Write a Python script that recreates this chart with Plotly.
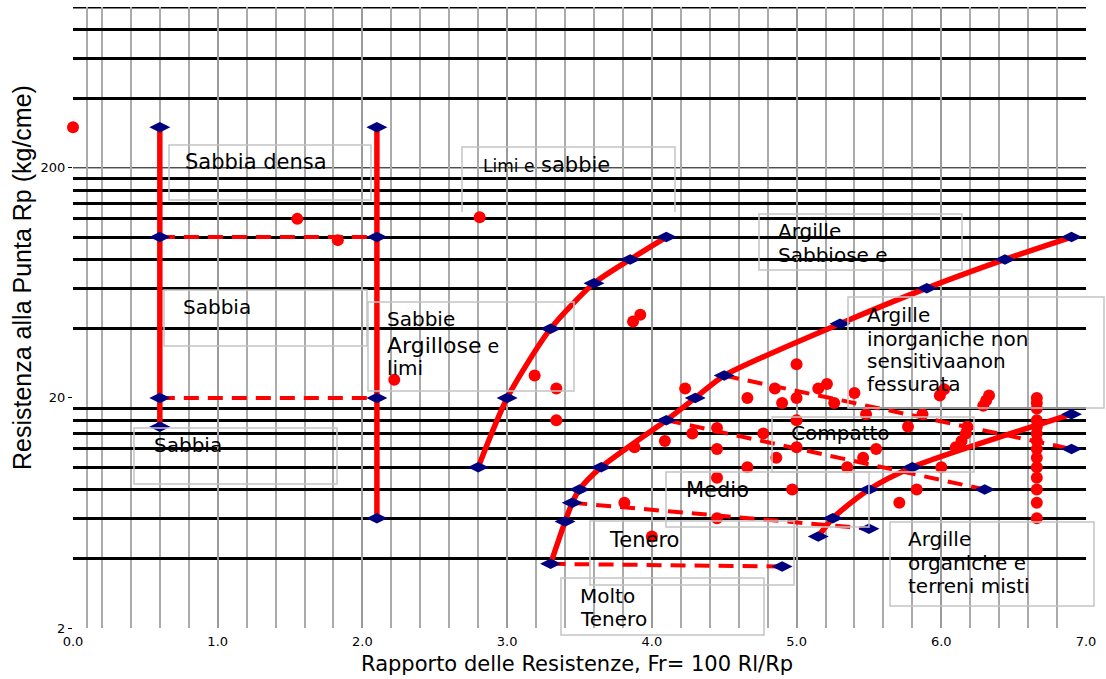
import math
import plotly.graph_objects as go

# ---------------- data ----------------
# Sabbia boundary (vertical at Fr=0.6)
sabbia_x = [0.6, 0.6, 0.6, 0.6]
sabbia_y = [300, 100, 20, 15]
# Sabbie argillose boundary (vertical at Fr=2.1)
sabbie_arg_x = [2.1, 2.1, 2.1, 2.1]
sabbie_arg_y = [300, 100, 20, 6]
# Limi e sabbie curve
limi_x = [2.8, 3.0, 3.3, 3.6, 3.85, 4.1]
limi_y = [10, 20, 40, 63, 80, 100]
# Argille curve
argille_x = [3.3, 3.4, 3.45, 3.5, 3.65, 4.1, 4.3, 4.5, 5.3, 5.9, 6.44, 6.9]
argille_y = [3.8, 5.8, 7, 8, 10, 16, 20, 25, 42, 60, 80, 100]
# Argille organiche curve
organ_x = [5.15, 5.25, 5.5, 5.8, 6.9]
organ_y = [5, 6, 8, 10, 17]

# dashed consistency lines
dense_x, dense_y = [0.6, 2.1], [100, 100]
sand_x, sand_y = [0.6, 2.1], [20, 20]
molto_x, molto_y = [3.3, 4.9], [3.8, 3.7]
tenero_x, tenero_y = [3.45, 5.5], [7, 5.4]
medio_x, medio_y = [4.1, 6.3], [16, 8]
compatto_x, compatto_y = [4.5, 6.9], [25, 12]

# measured points (red dots)
pts_x = [0.0, 1.55, 1.83, 2.81, 3.87, 3.92, 2.22, 3.19, 3.34, 3.34, 3.88, 4.09, 4.23,
         4.28, 4.45, 4.45, 4.45, 4.66, 4.66, 4.77, 4.85, 4.86, 3.81, 4.45, 4.0,
         5.0, 4.9, 5.0, 5.15, 5.21, 5.26, 5.4, 5.48, 5.87, 5.99, 6.02, 6.29, 6.31, 6.33,
         5.0, 5.0, 4.97, 5.35, 5.46, 5.55, 5.77, 5.83, 5.71, 6.0, 6.1, 6.14, 6.17, 6.18,
         6.66, 6.66, 6.66, 6.66, 6.66, 6.66, 6.66, 6.66, 6.66, 6.66, 6.66, 6.66, 6.66, 6.66]
pts_y = [300, 120, 97, 122, 43, 46, 24, 25, 22, 16, 12.2, 13, 22,
         14, 14.8, 12, 9, 20, 10, 14, 22, 11, 7, 6, 5,
         28, 19, 20, 22, 23, 19, 21, 17, 17, 20.5, 21.8, 18.5, 19.5, 20.5,
         16, 12.2, 8, 10, 11, 12, 15, 8, 7, 10, 12.2, 13, 14, 15,
         20, 19, 18, 16, 15, 14, 13, 12, 11, 10, 9, 8, 7, 6]

# axes
x_major = [0, 1, 2, 3, 4, 5, 6, 7]
x_minor = [0.1] + [round(0.2 * i, 1) for i in range(1, 35) if i % 5 != 0]
y_ticks = [2, 20, 200]
y_thick = [4, 6, 8, 10, 12, 14, 16, 18, 40, 60, 80, 100, 120, 140, 160, 180, 400, 600, 800]
y_edge = [1000]
y_thin = [200]

# zone labels: (box x0,y0,x1,y1 in px, open bottom?, text left px, [(line, centre px, size)])
zones = [
    ((169, 145, 371, 200), False, 183, [("Sabbia densa", 162, 21)]),
    ((462, 147, 675, 212), True, 481, [("<span style='font-size:17px'>Limi e</span> sabbie", 165, 21)]),
    ((759, 214, 962, 270), False, 776, [("Argille", 231, 20), ("Sabbiose e", 255, 20)]),
    ((164, 290, 367, 346), False, 181, [("Sabbia", 307, 20)]),
    ((368, 302, 574, 391), False, 385, [("Sabbie", 319, 20),
                                        ("<span style='font-size:22px'>Argillose</span> e", 345, 19),
                                        ("limi", 368, 20)]),
    ((848, 297, 1104, 408), False, 865, [("Argille", 315, 20), ("inorganiche non", 339, 20),
                                         ("sensitivaanon", 361, 20), ("fessurata", 384, 20)]),
    ((134, 428, 337, 484), False, 152, [("Sabbia", 445, 20)]),
    ((772, 417, 974, 472), False, 789, [("Compatto", 433, 20)]),
    ((666, 472, 869, 527), False, 684, [("Medio", 490, 21)]),
    ((590, 521, 794, 585), False, 607, [("Tenero", 540, 21)]),
    ((561, 578, 764, 635), False, 578, [("Molto", 596, 20), ("Tenero", 619, 20)]),
    ((890, 522, 1094, 606), False, 906, [("Argille", 539, 20), ("organiche e", 563, 20),
                                         ("terreni misti", 586, 20)]),
]

# ---------------- figure ----------------
W, H = 1106, 679
L, R, T, B = 73, 1086, 7, 628


def pxx(v):
    return (v - L) / (R - L)


def pxy(v):
    return (B - v) / (B - T)


RED = "#ff0000"
NAVY = "#00007f"
fig = go.Figure()

dash_style = dict(color=RED, width=4, dash="15px,9px")
for xs, ys in [(dense_x, dense_y), (sand_x, sand_y), (molto_x, molto_y),
               (tenero_x, tenero_y), (medio_x, medio_y), (compatto_x, compatto_y)]:
    fig.add_trace(go.Scatter(x=xs, y=ys, mode="lines", line=dash_style,
                             showlegend=False, hoverinfo="skip"))

for xs, ys, shape in [(sabbia_x, sabbia_y, "linear"), (sabbie_arg_x, sabbie_arg_y, "linear"),
                      (limi_x, limi_y, "spline"), (argille_x, argille_y, "spline"),
                      (organ_x, organ_y, "spline")]:
    fig.add_trace(go.Scatter(x=xs, y=ys, mode="lines",
                             line=dict(color=RED, width=5.5, shape=shape, smoothing=0.7),
                             showlegend=False, hoverinfo="skip"))

fig.add_trace(go.Scatter(x=pts_x, y=pts_y, mode="markers", cliponaxis=False,
                         marker=dict(color=RED, size=12, symbol="circle", line=dict(width=0)),
                         showlegend=False))

dia_x = sabbia_x + sabbie_arg_x + limi_x + argille_x + organ_x + \
    [molto_x[1], tenero_x[1], medio_x[1], compatto_x[1]]
dia_y = sabbia_y + sabbie_arg_y + limi_y + argille_y + organ_y + \
    [molto_y[1], tenero_y[1], medio_y[1], compatto_y[1]]
fig.add_trace(go.Scatter(x=dia_x, y=dia_y, mode="markers",
                         marker=dict(color=NAVY, size=15, symbol="diamond-wide",
                                     line=dict(width=0)),
                         showlegend=False))

shapes = []
for v in y_thin:
    shapes.append(dict(type="line", xref="paper", yref="y", x0=0, x1=1, y0=v, y1=v,
                       line=dict(color="black", width=1), layer="below"))
for v in y_edge:
    shapes.append(dict(type="line", xref="paper", yref="y", x0=0, x1=1, y0=v, y1=v,
                       line=dict(color="black", width=3), layer="below"))

annotations = []
for (x0, y0, x1, y1), open_bottom, tx, lines in zones:
    bx0, bx1, by0, by1 = pxx(x0), pxx(x1), pxy(y1), pxy(y0)
    if open_bottom:
        shapes.append(dict(type="path", xref="paper", yref="paper",
                           path=f"M {bx0},{by0} L {bx0},{by1} L {bx1},{by1} L {bx1},{by0}",
                           line=dict(color="#c4c4c4", width=1.5)))
    else:
        shapes.append(dict(type="rect", xref="paper", yref="paper",
                           x0=bx0, x1=bx1, y0=by0, y1=by1,
                           line=dict(color="#c4c4c4", width=1.5), fillcolor="rgba(0,0,0,0)"))
    for txt, cy, fs in lines:
        annotations.append(dict(xref="paper", yref="paper", x=pxx(tx), y=pxy(cy),
                                xanchor="left", yanchor="middle", showarrow=False,
                                text=txt, font=dict(family="DejaVu Sans", size=fs, color="black")))

annotations.append(dict(xref="paper", yref="paper", x=pxx(577), y=pxy(664),
                        xanchor="center", yanchor="middle", showarrow=False,
                        text="Rapporto delle Resistenze, Fr= 100 Rl/Rp",
                        font=dict(family="DejaVu Sans", size=21, color="black")))
annotations.append(dict(xref="paper", yref="paper", x=pxx(22), y=pxy(278),
                        xanchor="center", yanchor="middle", textangle=-90, showarrow=False,
                        text="Resistenza alla Punta Rp (kg/cme)",
                        font=dict(family="Liberation Sans Narrow, Liberation Sans", size=25,
                                  color="black")))

fig.update_layout(
    width=W, height=H,
    margin=dict(l=L, r=W - R, t=T, b=H - B, autoexpand=False),
    paper_bgcolor="white", plot_bgcolor="white",
    shapes=shapes, annotations=annotations,
    showlegend=False,
    xaxis=dict(range=[0, 7], tickmode="array", tickvals=x_major,
               ticktext=[f"{v:.1f}" for v in x_major], automargin=False,
               showgrid=True, gridcolor="#9a9a9a", gridwidth=1.5,
               zeroline=False, showline=False, ticks="", ticklabelstandoff=4,
               tickfont=dict(family="DejaVu Sans", size=13, color="black"),
               minor=dict(tickmode="array", tickvals=x_minor, showgrid=True,
                          gridcolor="#ababab", gridwidth=1.5, ticks="")),
    yaxis=dict(type="log", range=[math.log10(2), 3], tickmode="array",
               tickvals=y_ticks, ticktext=[str(v) for v in y_ticks], automargin=False,
               showgrid=False, zeroline=False, showline=False,
               ticks="outside", ticklen=4, tickcolor="black", tickwidth=1,
               tickfont=dict(family="DejaVu Sans", size=13, color="black"),
               minor=dict(tickmode="array", tickvals=y_thick, showgrid=True,
                          gridcolor="black", gridwidth=2.5, ticks="")),
)

fig.write_html("out.html", config={"displayModeBar": False},
               post_script="document.body.style.margin='0px';")
